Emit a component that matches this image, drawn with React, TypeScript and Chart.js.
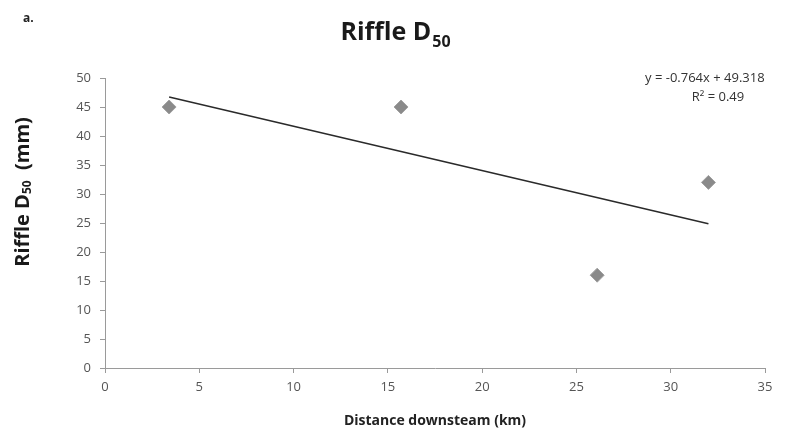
import React, { useEffect, useRef } from "react";
import { Chart, registerables } from "chart.js";

Chart.register(...registerables);

const distanceKm = [3.4, 15.7, 26.1, 32.0];
const riffleD50 = [45, 45, 16, 32];
const trendX = [3.4, 32.0];
const trendY = [46.72, 24.87];
const xTicks = [0, 5, 10, 15, 20, 25, 30, 35];
const yTicks = [0, 5, 10, 15, 20, 25, 30, 35, 40, 45, 50];
const equationText = "y = -0.764x + 49.318";
const r2Text = "R² = 0.49";

const FONT = "'Open Sans', Lato, sans-serif";

const textPlugin = {
  id: "customText",
  afterDraw(chart: any) {
    const ctx = chart.ctx;
    const area = chart.chartArea;
    ctx.save();
    ctx.fillStyle = "#222";
    // panel label
    ctx.font = `bold 12px ${FONT}`;
    ctx.textAlign = "left";
    ctx.textBaseline = "alphabetic";
    ctx.fillText("a.", 23, 22);
    // title with subscript
    ctx.fillStyle = "#1a1a1a";
    ctx.font = `bold 25px ${FONT}`;
    const main = "Riffle D";
    const sub = "50";
    const wMain = ctx.measureText(main).width;
    ctx.font = `bold 16px ${FONT}`;
    const wSub = ctx.measureText(sub).width;
    const tx = 395 - (wMain + wSub) / 2;
    ctx.font = `bold 25px ${FONT}`;
    ctx.fillText(main, tx, 40);
    ctx.font = `bold 16px ${FONT}`;
    ctx.fillText(sub, tx + wMain + 1, 47);

    // y-axis title rotated
    ctx.save();
    ctx.translate(23, 192);
    ctx.rotate(-Math.PI / 2);
    const yMain = "Riffle D";
    const ySub = "50";
    const yTail = "  (mm)";
    ctx.font = `bold 20px ${FONT}`;
    const w1 = ctx.measureText(yMain).width;
    const w3 = ctx.measureText(yTail).width;
    ctx.font = `bold 12px ${FONT}`;
    const w2 = ctx.measureText(ySub).width;
    let sx = -(w1 + w2 + w3) / 2;
    ctx.textBaseline = "middle";
    ctx.font = `bold 20px ${FONT}`;
    ctx.fillText(yMain, sx, 0);
    sx += w1;
    ctx.font = `bold 12px ${FONT}`;
    ctx.fillText(ySub, sx, 5);
    sx += w2;
    ctx.font = `bold 20px ${FONT}`;
    ctx.fillText(yTail, sx, 0);
    ctx.restore();

    // x-axis title
    ctx.font = `bold 14px ${FONT}`;
    ctx.textAlign = "center";
    ctx.textBaseline = "middle";
    ctx.fillStyle = "#222";
    ctx.fillText("Distance downsteam (km)", (area.left + area.right) / 2, 421);

    // equation
    ctx.font = `13px ${FONT}`;
    ctx.fillStyle = "#333";
    ctx.textAlign = "left";
    ctx.fillText(equationText, 645, 78);
    ctx.textAlign = "center";
    ctx.fillText(r2Text, 718, 97);
    ctx.restore();
  },
};

export default function App() {
  const ref = useRef<HTMLCanvasElement | null>(null);
  useEffect(() => {
    if (!ref.current) return;
    const chart = new Chart(ref.current, {
      type: "scatter",
      data: {
        datasets: [
          {
            label: "Trend",
            type: "line",
            data: trendX.map((x, i) => ({ x, y: trendY[i] })),
            borderColor: "#2a2a2a",
            borderWidth: 1.5,
            pointRadius: 0,
            showLine: true,
            fill: false,
          },
          {
            label: "Riffle D50",
            data: distanceKm.map((x, i) => ({ x, y: riffleD50[i] })),
            pointStyle: "rectRot",
            pointRadius: 7,
            backgroundColor: "#8a8a8a",
            borderColor: "#a0a0a0",
            borderWidth: 1,
          },
        ],
      },
      options: {
        animation: false,
        responsive: false,
        maintainAspectRatio: false,
        layout: { padding: { left: 0, right: 26, top: 78, bottom: 0 } },
        plugins: {
          legend: { display: false },
          title: { display: false },
          tooltip: { enabled: false },
        },
        scales: {
          x: {
            type: "linear",
            min: 0,
            max: 35,
            afterBuildTicks: (s: any) => {
              s.ticks = xTicks.map((v) => ({ value: v }));
            },
            afterFit: (s: any) => {
              s.height = 64;
            },
            grid: {
              drawOnChartArea: false,
              drawTicks: true,
              tickLength: 5,
              color: "#9a9a9a",
            },
            border: { display: true, color: "#9a9a9a", width: 1 },
            ticks: {
              color: "#555",
              font: { family: FONT, size: 13 },
              padding: 6,
              maxRotation: 0,
            },
          },
          y: {
            type: "linear",
            min: 0,
            max: 50,
            afterBuildTicks: (s: any) => {
              s.ticks = yTicks.map((v) => ({ value: v }));
            },
            afterFit: (s: any) => {
              s.width = 105;
            },
            grid: {
              drawOnChartArea: false,
              drawTicks: true,
              tickLength: 5,
              color: "#9a9a9a",
            },
            border: { display: true, color: "#9a9a9a", width: 1 },
            ticks: {
              color: "#555",
              font: { family: FONT, size: 13 },
              padding: 9,
            },
          },
        },
      },
      plugins: [textPlugin],
    } as any);
    return () => chart.destroy();
  }, []);
  return (
    <div
      style={{
        position: "fixed",
        left: 0,
        top: 0,
        width: 791,
        height: 432,
        background: "#fff",
      }}
    >
      <canvas ref={ref} width={791} height={432} style={{ width: 791, height: 432 }} />
    </div>
  );
}
